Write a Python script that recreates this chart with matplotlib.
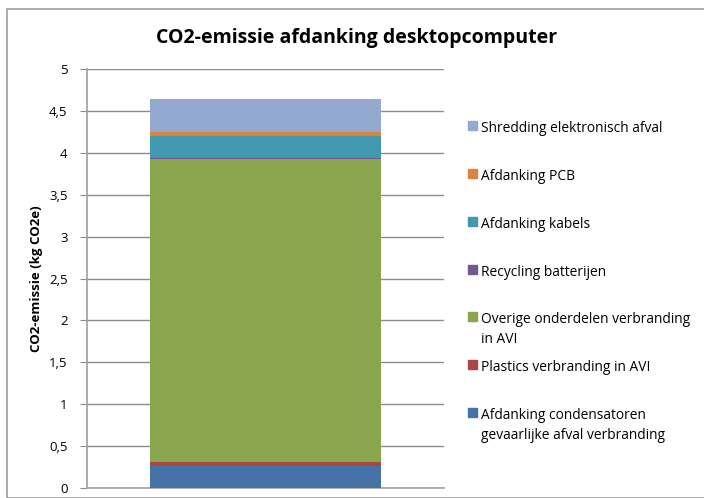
import matplotlib.pyplot as plt
from matplotlib.patches import Rectangle

# --- Data (kg CO2e), bottom to top ---
labels = [
    "Afdanking condensatoren\ngevaarlijke afval verbranding",
    "Plastics verbranding in AVI",
    "Overige onderdelen verbranding\nin AVI",
    "Recycling batterijen",
    "Afdanking kabels",
    "Afdanking PCB",
    "Shredding elektronisch afval",
]
values = [0.265, 0.045, 3.62, 0.01, 0.262, 0.048, 0.393]
colors = ["#4572A7", "#AA4643", "#89A54E", "#71588F", "#4198AF", "#DB843D", "#93A9CF"]
yticks = [0, 0.5, 1, 1.5, 2, 2.5, 3, 3.5, 4, 4.5, 5]
ytick_labels = ["0", "0,5", "1", "1,5", "2", "2,5", "3", "3,5", "4", "4,5", "5"]

plt.rcParams['font.family'] = ['Open Sans', 'DejaVu Sans']

W, H = 704, 498
fig = plt.figure(figsize=(W / 100, H / 100), dpi=100)

# chart border
fig.patches.append(Rectangle((7 / W, 0), 1, 1 - 9 / H, transform=fig.transFigure,
                             fill=False, edgecolor="#A0A0A0", lw=1.2))

ax = fig.add_axes([87 / W, 1 - 488 / H, 357 / W, 419 / H])

bottom = 0
for v, c, lab in zip(values, colors, labels):
    ax.bar(0, v, width=0.647, bottom=bottom, color=c, label=lab, zorder=3)
    bottom += v

ax.set_xlim(-0.5, 0.5)
ax.set_ylim(0, 5)
ax.set_yticks(yticks)
ax.set_yticklabels(ytick_labels, fontsize=9.5)
ax.set_xticks([])
ax.yaxis.grid(True, color="#8C8C8C", lw=1, zorder=0)
for s in ["top", "right"]:
    ax.spines[s].set_visible(False)
for s in ["left", "bottom"]:
    ax.spines[s].set_color("#A0A0A0")
    ax.spines[s].set_linewidth(1.2)
ax.tick_params(axis="y", length=5, color="#8C8C8C", pad=9)
ax.set_ylabel("CO2-emissie (kg CO2e)", fontsize=9.5, fontweight="bold", labelpad=4)

fig.text(357 / W, 1 - 38 / H, "CO2-emissie afdanking desktopcomputer",
         ha="center", va="center", fontsize=14, fontweight="bold")

# legend (top to bottom = reverse stacking order)
leg_y = [125, 173, 221, 269, 316, 364, 412]
for y, lab, c in zip(leg_y, labels[::-1], colors[::-1]):
    fig.patches.append(Rectangle((468 / W, 1 - (y + 5) / H), 9 / W, 9 / H,
                                 transform=fig.transFigure, color=c))
    fig.text(481 / W, 1 - (y - 4) / H, lab, ha="left", va="top",
             fontsize=9.9, linespacing=1.45)

fig.savefig("out.png", dpi=100)
